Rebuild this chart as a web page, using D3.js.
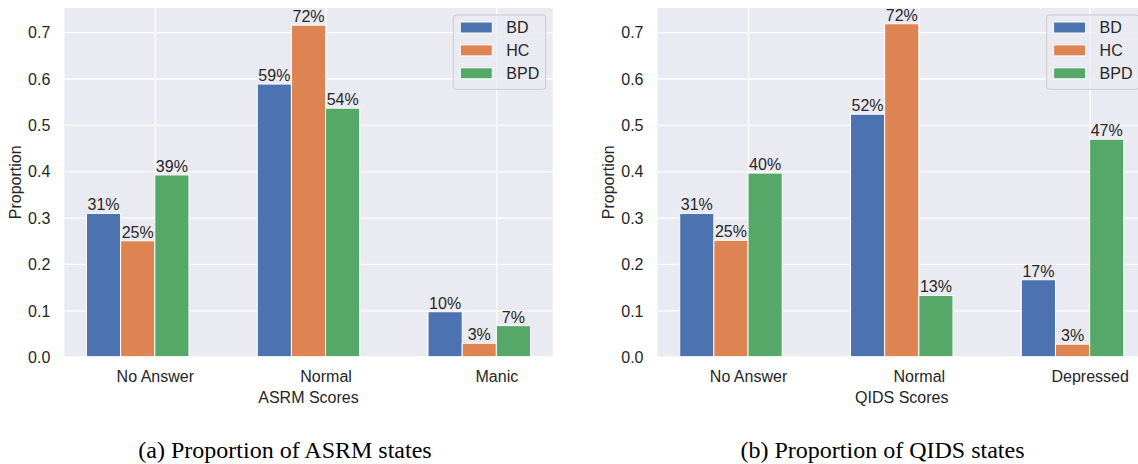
<!DOCTYPE html>
<html>
<head>
<meta charset="utf-8">
<script src="https://cdn.jsdelivr.net/npm/d3@7"></script>
<style>
  html, body { margin: 0; padding: 0; background: #ffffff; }
  svg { display: block; }
</style>
</head>
<body>
<svg id="fig" width="1138" height="464"></svg>
<script>
// Group labels and series colours
const groups = ["BD", "HC", "BPD"];
const groupColors = ["#4C72B0", "#DD8452", "#55A868"];

// ASRM panel
const asrmCategories = ["No Answer", "Normal", "Manic"];
const asrmBD  = [0.309, 0.588, 0.097];
const asrmHC  = [0.250, 0.715, 0.029];
const asrmBPD = [0.392, 0.536, 0.067];

// QIDS panel
const qidsCategories = ["No Answer", "Normal", "Depressed"];
const qidsBD  = [0.309, 0.523, 0.166];
const qidsHC  = [0.251, 0.718, 0.027];
const qidsBPD = [0.396, 0.132, 0.469];

const yTicks = [0.0, 0.1, 0.2, 0.3, 0.4, 0.5, 0.6, 0.7];

const svg = d3.select("#fig");
const textColor = "#262626";
const sans = "'Liberation Sans', Arial, sans-serif";

function drawPanel(cfg) {
  const { left, right, top, bottom, categories, series, xTitle, yTitleX } = cfg;
  const barW = 0.2;

  const x = d3.scaleLinear().domain([-0.53, 2.33]).range([left, right]);
  const y = d3.scaleLinear().domain([0, 0.752]).range([bottom, top]);

  const g = svg.append("g");

  // plotting area background
  g.append("rect")
    .attr("x", left).attr("y", top)
    .attr("width", right - left).attr("height", bottom - top)
    .attr("fill", "#EAEAF2");

  // horizontal grid via y-axis
  const yAxis = d3.axisLeft(y).tickValues(yTicks).tickFormat(d3.format(".1f"))
    .tickSize(-(right - left)).tickPadding(14);
  const ya = g.append("g").attr("transform", `translate(${left},0)`).call(yAxis);
  ya.select(".domain").remove();
  ya.selectAll(".tick line").attr("stroke", "#ffffff").attr("stroke-width", 1.3);
  ya.selectAll(".tick text")
    .attr("fill", textColor).attr("font-family", sans).attr("font-size", 16)
    .attr("dy", "0.36em");

  // vertical grid + category labels via x-axis
  const xAxis = d3.axisBottom(x).tickValues(d3.range(categories.length))
    .tickFormat(i => categories[i]).tickSize(-(bottom - top)).tickPadding(14);
  const xa = g.append("g").attr("transform", `translate(0,${bottom})`).call(xAxis);
  xa.select(".domain").remove();
  xa.selectAll(".tick line").attr("stroke", "#ffffff").attr("stroke-width", 1.3);
  xa.selectAll(".tick text")
    .attr("fill", textColor).attr("font-family", sans).attr("font-size", 16)
    .attr("dy", "0.71em");

  // bars: each group's bar sits at offset (j-2)*barW from the category tick
  series.forEach((vals, j) => {
    const bars = g.append("g");
    bars.selectAll("rect")
      .data(vals)
      .join("rect")
      .attr("x", (d, i) => x(i + (j - 2) * barW))
      .attr("width", (d, i) => x(i + (j - 1) * barW) - x(i + (j - 2) * barW))
      .attr("y", d => y(d))
      .attr("height", d => y(0) - y(d))
      .attr("fill", groupColors[j])
      .attr("stroke", "#ffffff")
      .attr("stroke-width", 1);

    bars.selectAll("text")
      .data(vals)
      .join("text")
      .attr("x", (d, i) => x(i + (j - 1.5) * barW))
      .attr("y", d => y(d) - 3)
      .attr("text-anchor", "middle")
      .attr("font-family", sans).attr("font-size", 16)
      .attr("fill", textColor)
      .text(d => Math.round(d * 100) + "%");
  });

  // axis titles
  g.append("text")
    .attr("x", (left + right) / 2).attr("y", 402.7)
    .attr("text-anchor", "middle")
    .attr("font-family", sans).attr("font-size", 16).attr("fill", textColor)
    .text(xTitle);

  g.append("text")
    .attr("transform", `translate(${yTitleX},${(top + bottom) / 2}) rotate(-90)`)
    .attr("text-anchor", "middle")
    .attr("font-family", sans).attr("font-size", 16).attr("fill", textColor)
    .text("Proportion");

  // legend, upper right
  const lgW = 92.4, lgH = 74.3;
  const lgX = right - 7 - lgW, lgY = 15;
  const lg = g.append("g").attr("transform", `translate(${lgX},${lgY})`);
  lg.append("rect")
    .attr("width", lgW).attr("height", lgH)
    .attr("rx", 3).attr("ry", 3)
    .attr("fill", "#EAEAF2").attr("fill-opacity", 0.8)
    .attr("stroke", "#CCCCCC").attr("stroke-width", 1);
  groups.forEach((name, j) => {
    const rowY = 7 + j * 22.9;
    lg.append("rect")
      .attr("x", 7).attr("y", rowY)
      .attr("width", 32).attr("height", 11)
      .attr("fill", groupColors[j])
      .attr("stroke", "#ffffff").attr("stroke-width", 1);
    lg.append("text")
      .attr("x", 53).attr("y", rowY + 5.5)
      .attr("dy", "0.36em")
      .attr("font-family", sans).attr("font-size", 16).attr("fill", textColor)
      .text(name);
  });
}

drawPanel({
  left: 64.3, right: 552.7, top: 8, bottom: 356.7,
  categories: asrmCategories,
  series: [asrmBD, asrmHC, asrmBPD],
  xTitle: "ASRM Scores",
  yTitleX: 20.6
});

drawPanel({
  left: 657.5, right: 1146, top: 8, bottom: 356.7,
  categories: qidsCategories,
  series: [qidsBD, qidsHC, qidsBPD],
  xTitle: "QIDS Scores",
  yTitleX: 614
});

// subfigure captions
const serif = "'Liberation Serif', 'Times New Roman', serif";
svg.append("text")
  .attr("x", 285).attr("y", 458.3)
  .attr("text-anchor", "middle")
  .attr("font-family", serif).attr("font-size", 24).attr("fill", "#000")
  .text("(a) Proportion of ASRM states");
svg.append("text")
  .attr("x", 882.5).attr("y", 458.3)
  .attr("text-anchor", "middle")
  .attr("font-family", serif).attr("font-size", 24).attr("fill", "#000")
  .text("(b) Proportion of QIDS states");
</script>
</body>
</html>
